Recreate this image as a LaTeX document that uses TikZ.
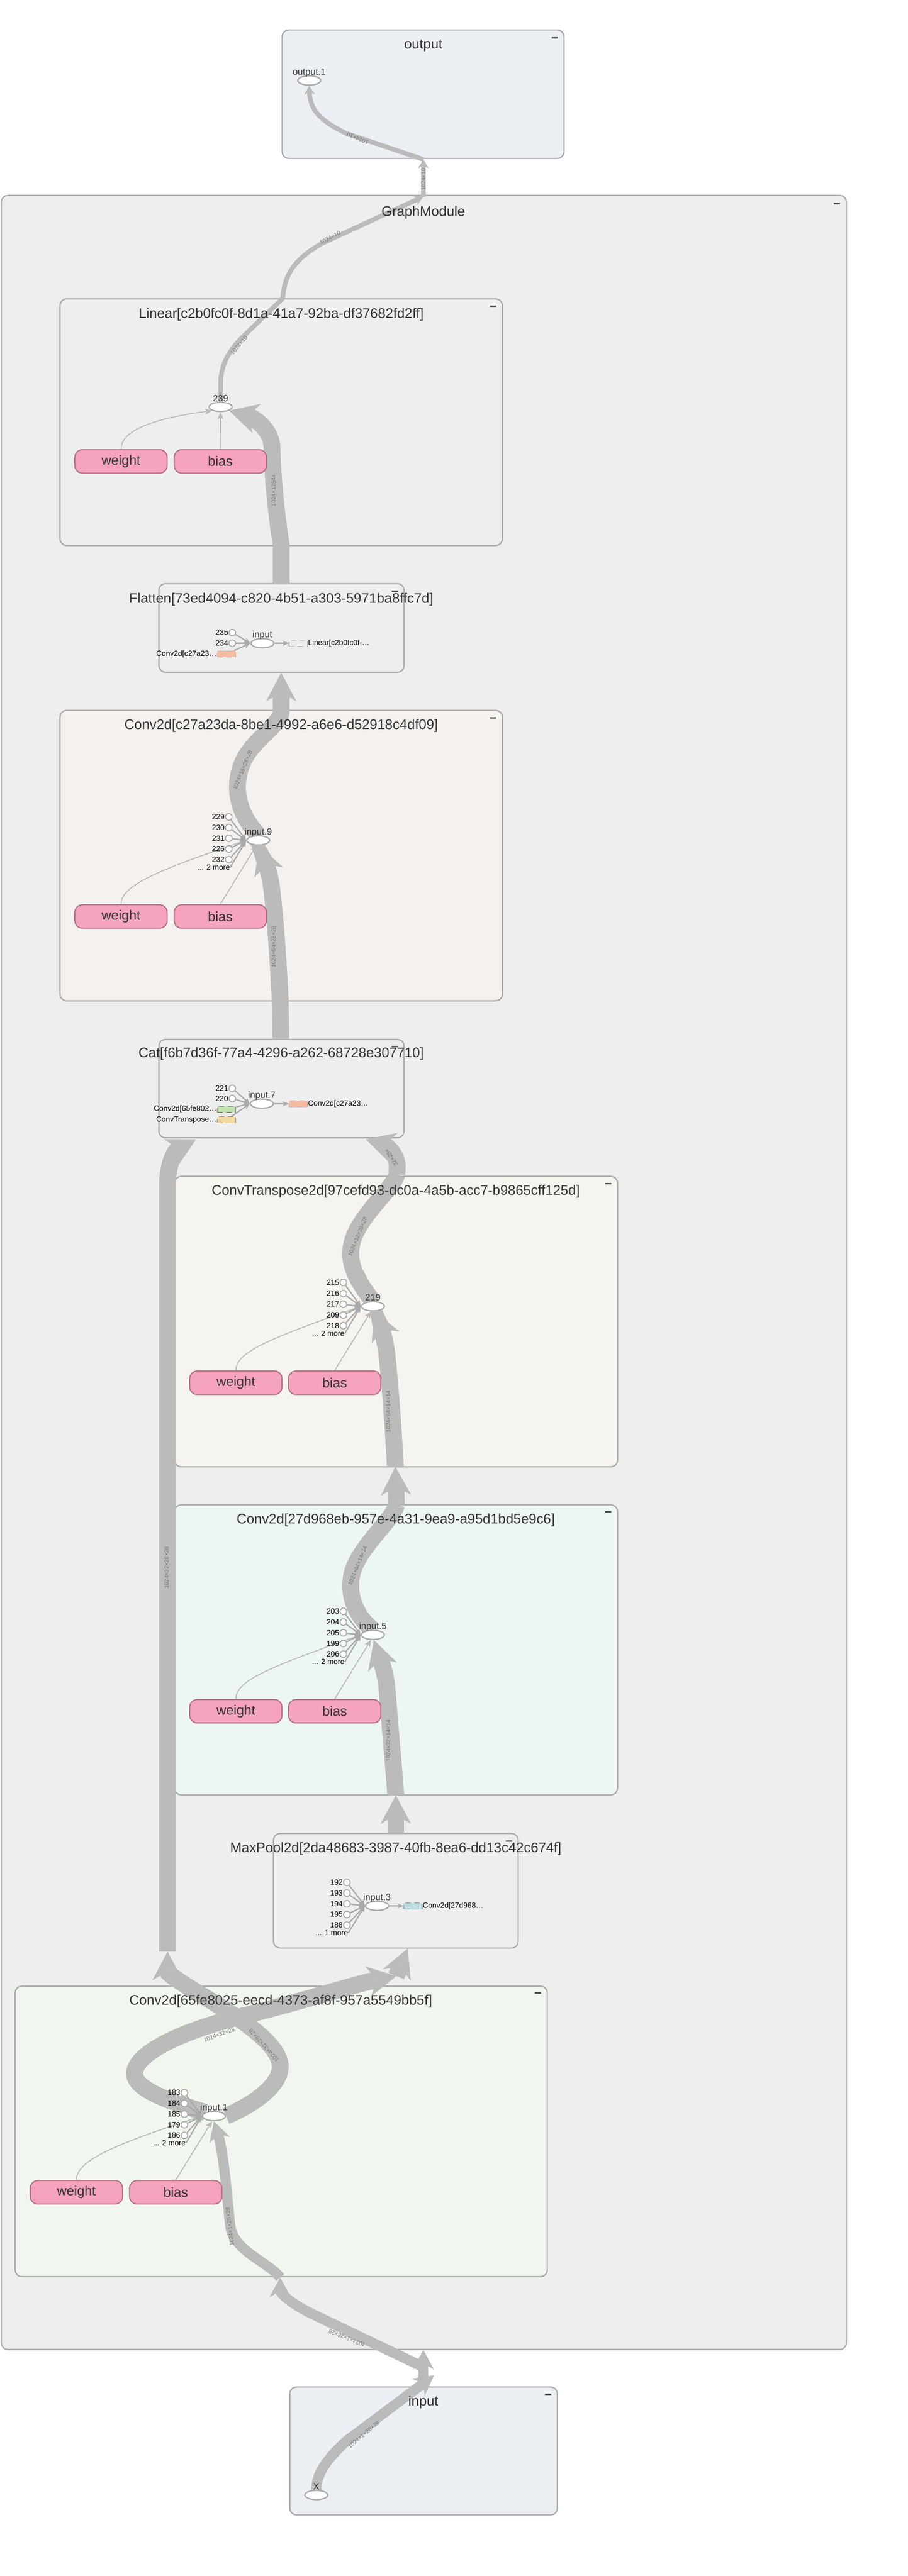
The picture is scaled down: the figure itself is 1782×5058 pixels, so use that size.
\documentclass[tikz,border=0pt]{standalone}
\usepackage{fontspec}
\setmainfont{Liberation Sans}
\usetikzlibrary{shapes.geometric,arrows.meta,backgrounds}

\definecolor{edgegray}{HTML}{BBBBBB}
\definecolor{grpline}{HTML}{AAAAAA}
\definecolor{gmfill}{HTML}{EEEEEE}
\definecolor{iofill}{HTML}{ECEFF4}
\definecolor{convcfill}{HTML}{F5F1EE}
\definecolor{convtfill}{HTML}{F5F4EF}
\definecolor{convbfill}{HTML}{EEF6F4}
\definecolor{convafill}{HTML}{F1F6EE}
\definecolor{parampink}{HTML}{F5A3BE}
\definecolor{paramline}{HTML}{B07087}
\definecolor{txtdark}{HTML}{333333}
\definecolor{lblgray}{HTML}{777777}
\definecolor{fangray}{HTML}{AAAAAA}
\definecolor{pxorange}{HTML}{F5BBA0}
\definecolor{pxgreen}{HTML}{C5E2B2}
\definecolor{pxyellow}{HTML}{F2D9A2}
\definecolor{pxteal}{HTML}{BCDDDE}

\begin{document}
\begin{tikzpicture}
    [x=0.01cm, y=-0.01cm,
    grp/.style={rectangle, rounded corners=3.7pt, draw=grpline, line width=0.7pt, inner sep=0pt, outer sep=0pt},
    ttl/.style={font=\fontsize{7.7}{9}\selectfont, text=txtdark, inner sep=0pt},
    minus/.style={font=\bfseries\fontsize{7}{8}\selectfont, text=txtdark, inner sep=0pt},
    op/.style={ellipse, draw=grpline, fill=white, line width=0.7pt, minimum width=0.45cm, minimum height=0.18cm, inner sep=0pt, label distance=2.3pt},
    oplbl/.style={font=\fontsize{5.1}{6}\selectfont, text=txtdark, inner sep=0pt, text depth=0pt},
    const/.style={circle, draw=grpline, fill=white, line width=0.55pt, minimum size=0.13cm, inner sep=0pt, label distance=1.3pt},
    numlbl/.style={font=\fontsize{4.2}{5}\selectfont, text=black, inner sep=0pt},
    param/.style={rectangle, rounded corners=4.2pt, draw=paramline, fill=parampink, line width=0.6pt, minimum width=1.81cm, minimum height=0.46cm, inner sep=0pt, font=\fontsize{7.5}{9}\selectfont, text=txtdark},
    proxy/.style={rectangle, densely dashed, line width=0.35pt, minimum width=0.36cm, minimum height=0.12cm, inner sep=0pt, label distance=1.8pt},
    elbl/.style={font=\fontsize{3.2}{4}\selectfont, text=lblgray, inner sep=0pt},
    fanin/.style={color=fangray, line width=0.7pt, -{Stealth[length=3.5pt, width=3pt, inset=1pt, line width=0pt]}},
    paramflow/.style={draw=edgegray, line width=0.55pt, -{Stealth[length=4pt, width=3.5pt, inset=1.2pt, line width=0pt]}},
    thinline/.style={draw=edgegray, line width=2.6pt},
    thinflow/.style={thinline, -{Stealth[length=5pt, width=6pt, inset=1.6pt, line width=0pt]}},
    midflow/.style={draw=edgegray, line width=5.7pt, -{Stealth[length=11pt, width=12pt, inset=3.5pt, line width=0pt]}},
    bigline/.style={draw=edgegray, line width=9.4pt},
    bigflow/.style={bigline, -{Stealth[length=16pt, width=17pt, inset=5pt, line width=0pt]}}]

    \useasboundingbox (0,0) rectangle (1782,5058);

    % ports on the group borders
    \coordinate (gmTop) at (831,386);
    \coordinate (outBot) at (831,313);
    \coordinate (linTop) at (555,586);
    \coordinate (linBot) at (552,1071);
    \coordinate (flatTop) at (552,1146);
    \coordinate (flatBot) at (552,1321);
    \coordinate (convCTop) at (552,1395);
    \coordinate (convCBot) at (550,1965);
    \coordinate (catTop) at (551,2041);
    \coordinate (catBotL) at (385,2237);
    \coordinate (catBotR) at (718,2237);
    \coordinate (convTTop) at (779,2306);
    \coordinate (convTBot) at (776,2880);
    \coordinate (convBTop) at (778,2955);
    \coordinate (convBBot) at (777,3525);
    \coordinate (poolTop) at (777,3600);
    \coordinate (poolBot) at (800,3826);
    \coordinate (convATopL) at (329,3832);
    \coordinate (convATopR) at (778,3880);
    \coordinate (convABot) at (550,4472);
    \coordinate (gmBot) at (831,4614);
    \coordinate (gmIn) at (836,4650);
    \coordinate (inPort) at (831,4684);
    \coordinate (inTop) at (852,4664);

    % output
    \node[op, label={[oplbl]above:output.1}] (out1) at (607,158) {};

    % Linear
    \node[op, label={[oplbl]above:239}] (op239) at (433,799) {};
    \node[param] (wLin) at (237.5,906) {weight};
    \node[param] (bLin) at (432.5,906) {bias};

    % Flatten
    \node[op, label={[oplbl]above:input}] (opFlat) at (515,1263) {};
    \node[const, label={[numlbl]left:235}] (c235) at (456,1242) {};
    \node[const, label={[numlbl]left:234}] (c234) at (456,1263) {};
    \node[proxy, draw=paramline!60, fill=pxorange, label={[numlbl]left:{Conv2d[c27a23…}}] (pxFlatIn) at (444.5,1284) {};
    \node[proxy, draw=grpline, fill=gmfill, label={[numlbl]right:{Linear[c2b0fc0f-…}}] (pxFlatOut) at (585.5,1263) {};

    % Conv2d c27a23da
    \node[op, label={[oplbl]above:input.9}] (opIn9) at (507,1650) {};
    \node[const, label={[numlbl]left:229}] (c229) at (449,1604) {};
    \node[const, label={[numlbl]left:230}] (c230) at (449,1625) {};
    \node[const, label={[numlbl]left:231}] (c231) at (449,1646) {};
    \node[const, label={[numlbl]left:225}] (c225) at (449,1667) {};
    \node[const, label={[numlbl]left:232}] (c232) at (449,1688) {};
    \node[numlbl, anchor=east] (moreC) at (452,1703) {... 2 more};
    \node[param] (wConvC) at (237.5,1799.5) {weight};
    \node[param] (bConvC) at (432.5,1799.5) {bias};

    % Cat
    \node[op, label={[oplbl]above:input.7}] (opIn7) at (514,2167) {};
    \node[const, label={[numlbl]left:221}] (c221) at (456,2137) {};
    \node[const, label={[numlbl]left:220}] (c220) at (456,2157) {};
    \node[proxy, draw=pxgreen!60!black, fill=pxgreen, label={[numlbl]left:{Conv2d[65fe802…}}] (pxCatA) at (444.5,2178) {};
    \node[proxy, draw=pxyellow!60!black, fill=pxyellow, label={[numlbl]left:{ConvTranspose…}}] (pxCatB) at (444.5,2199) {};
    \node[proxy, draw=paramline!60, fill=pxorange, label={[numlbl]right:{Conv2d[c27a23…}}] (pxCatOut) at (585.5,2167.5) {};

    % ConvTranspose2d
    \node[op, label={[oplbl]above:219}] (op219) at (732,2565) {};
    \node[const, label={[numlbl]left:215}] (c215) at (674,2518) {};
    \node[const, label={[numlbl]left:216}] (c216) at (674,2540) {};
    \node[const, label={[numlbl]left:217}] (c217) at (674,2561) {};
    \node[const, label={[numlbl]left:209}] (c209) at (674,2582) {};
    \node[const, label={[numlbl]left:218}] (c218) at (674,2603) {};
    \node[numlbl, anchor=east] (moreT) at (677,2618) {... 2 more};
    \node[param] (wConvT) at (463,2715) {weight};
    \node[param] (bConvT) at (657,2715) {bias};

    % Conv2d 27d968eb
    \node[op, label={[oplbl]above:input.5}] (opIn5) at (732,3210) {};
    \node[const, label={[numlbl]left:203}] (c203) at (674,3164) {};
    \node[const, label={[numlbl]left:204}] (c204) at (674,3185) {};
    \node[const, label={[numlbl]left:205}] (c205) at (674,3206) {};
    \node[const, label={[numlbl]left:199}] (c199) at (674,3227) {};
    \node[const, label={[numlbl]left:206}] (c206) at (674,3248) {};
    \node[numlbl, anchor=east] (moreB) at (677,3263) {... 2 more};
    \node[param] (wConvB) at (463,3360) {weight};
    \node[param] (bConvB) at (657,3360) {bias};

    % MaxPool2d
    \node[op, label={[oplbl]above:input.3}] (opIn3) at (740,3742) {};
    \node[const, label={[numlbl]left:192}] (c192) at (681,3696) {};
    \node[const, label={[numlbl]left:193}] (c193) at (681,3717) {};
    \node[const, label={[numlbl]left:194}] (c194) at (681,3738) {};
    \node[const, label={[numlbl]left:195}] (c195) at (681,3759) {};
    \node[const, label={[numlbl]left:188}] (c188) at (681,3780) {};
    \node[numlbl, anchor=east] (moreP) at (684,3795) {... 1 more};
    \node[proxy, draw=pxteal!60!black, fill=pxteal, label={[numlbl]right:{Conv2d[27d968…}}] (pxPoolOut) at (810.5,3742.5) {};

    % Conv2d 65fe8025
    \node[op, label={[oplbl]above:input.1}] (opIn1) at (420,4155) {};
    \node[const, label={[numlbl]left:183}] (c183) at (362,4109) {};
    \node[const, label={[numlbl]left:184}] (c184) at (362,4130) {};
    \node[const, label={[numlbl]left:185}] (c185) at (362,4151) {};
    \node[const, label={[numlbl]left:179}] (c179) at (362,4172) {};
    \node[const, label={[numlbl]left:186}] (c186) at (362,4193) {};
    \node[numlbl, anchor=east] (moreA) at (365,4208) {... 2 more};
    \node[param] (wConvA) at (150,4304.5) {weight};
    \node[param] (bConvA) at (345,4304.5) {bias};

    % input
    \node[op, label={[oplbl]above:X}] (opX) at (621,4899) {};

    \begin{pgfonlayer}{background}
        \fill[white] (0,0) rectangle (1782,5058);

        % groups
        \node[grp, fill=iofill, minimum width=5.53cm, minimum height=2.52cm] (grpOut) at (830.5,185) {};
        \node[grp, fill=gmfill, minimum width=16.58cm, minimum height=42.27cm] (grpGM) at (832,2498.5) {};
        \node[grp, fill=gmfill, minimum width=8.68cm, minimum height=4.84cm] (grpLinear) at (552,829) {};
        \node[grp, fill=gmfill, minimum width=4.81cm, minimum height=1.74cm] (grpFlatten) at (552.5,1233) {};
        \node[grp, fill=convcfill, minimum width=8.68cm, minimum height=5.70cm] (grpConvC) at (552,1680) {};
        \node[grp, fill=gmfill, minimum width=4.81cm, minimum height=1.93cm] (grpCat) at (552.5,2137.5) {};
        \node[grp, fill=convtfill, minimum width=8.69cm, minimum height=5.70cm] (grpConvT) at (777.5,2595) {};
        \node[grp, fill=convbfill, minimum width=8.69cm, minimum height=5.69cm] (grpConvB) at (777.5,3239.5) {};
        \node[grp, fill=gmfill, minimum width=4.80cm, minimum height=2.25cm] (grpPool) at (777,3712.5) {};
        \node[grp, fill=convafill, minimum width=10.44cm, minimum height=5.70cm] (grpConvA) at (552,4185) {};
        \node[grp, fill=iofill, minimum width=5.25cm, minimum height=2.51cm] (grpIn) at (831.5,4812.5) {};

        % Linear to output
        \draw[thinline] (op239.north) -- (433,755) .. controls (433,715) and (450,688) .. (478,660) -- (linTop);
        \draw[thinflow] (linTop) .. controls (558,545) and (572,512) .. (632,478) -- (gmTop);
        \draw[thinflow] (gmTop) -- (outBot);
        \draw[thinflow] (outBot) -- (680,262) .. controls (625,235) and (609,215) .. (out1.south);

        % Flatten to Linear
        \draw[bigflow] (flatTop) -- (linBot) .. controls (541,1000) and (535,930) .. (534,880) .. controls (533,842) and (498,820) .. (op239.south east);

        % Conv2d c27a23da to Flatten
        \draw[bigflow] (opIn9.north) .. controls (470,1600) and (455,1550) .. (475,1500) .. controls (495,1450) and (552,1425) .. (convCTop) -- (flatBot);

        % Cat to Conv2d c27a23da
        \draw[bigflow] (catTop) -- (convCBot) .. controls (546,1880) and (540,1800) .. (534,1750) .. controls (530,1712) and (518,1686) .. (opIn9.-80);

        % ConvTranspose2d to Cat
        \draw[bigline] (op219.north) .. controls (705,2520) and (682,2485) .. (690,2445) .. controls (700,2390) and (772,2335) .. (convTTop);
        \draw[bigflow] (convTTop) -- (780,2290) .. controls (778,2262) and (755,2248) .. (catBotR);

        % Conv2d 27d968eb to ConvTranspose2d
        \draw[bigline] (opIn5.north) .. controls (705,3180) and (682,3140) .. (690,3095) .. controls (700,3040) and (772,2985) .. (convBTop);
        \draw[bigflow] (convBTop) -- (convTBot);
        \draw[bigflow] (convTBot) .. controls (772,2800) and (765,2710) .. (760,2665) .. controls (756,2625) and (745,2600) .. (op219.-80);

        % MaxPool2d to Conv2d 27d968eb
        \draw[bigflow] (poolTop) -- (convBBot);
        \draw[bigflow] (convBBot) .. controls (771,3450) and (764,3370) .. (760,3320) .. controls (757,3280) and (745,3255) .. (opIn5.-80);

        % Conv2d 65fe8025 to MaxPool2d and Cat
        \draw[bigflow] (opIn1.north west) .. controls (330,4125) and (255,4100) .. (265,4065) .. controls (275,4025) and (370,3985) .. (470,3960) .. controls (600,3928) and (700,3895) .. (convATopR);
        \draw[bigflow] (convATopR) -- (poolBot);
        \draw[bigflow] (opIn1.east) .. controls (480,4140) and (553,4100) .. (550,4055) .. controls (547,4012) and (470,3962) .. (400,3920) .. controls (350,3890) and (329,3875) .. (convATopL);
        \draw[bigflow] (convATopL) -- (329,2325) .. controls (329,2282) and (345,2258) .. (catBotL);

        % input to Conv2d 65fe8025
        \draw[midflow] (opX.north) .. controls (621,4858) and (640,4830) .. (680,4793) -- (inTop);
        \draw[midflow] (inPort) -- (gmBot);
        \draw[midflow] (gmIn) -- (610,4542) .. controls (562,4518) and (550,4500) .. (convABot);
        \draw[midflow] (convABot) .. controls (525,4440) and (458,4420) .. (452,4370) .. controls (446,4320) and (440,4230) .. (opIn1.south);

        % weights and biases
        \draw[paramflow] (wLin.north) .. controls (238,845) and (300,822) .. (op239.south west);
        \draw[paramflow] (bLin.north) -- (op239.south);
        \draw[paramflow] (wConvC.north) .. controls (238,1740) and (300,1712) .. (opIn9.west);
        \draw[paramflow] (bConvC.north) -- (opIn9.-110);
        \draw[paramflow] (wConvT.north) .. controls (463,2655) and (525,2630) .. (op219.west);
        \draw[paramflow] (bConvT.north) -- (op219.-110);
        \draw[paramflow] (wConvB.north) .. controls (463,3300) and (525,3275) .. (opIn5.west);
        \draw[paramflow] (bConvB.north) -- (opIn5.-110);
        \draw[paramflow] (wConvA.north) .. controls (150,4245) and (210,4215) .. (opIn1.west);
        \draw[paramflow] (bConvA.north) -- (opIn1.-110);

        % constants into ops
        \path[fanin] (c235) edge (opFlat.west) (c234) edge (opFlat.west) (pxFlatIn) edge (opFlat.west);
        \path[fanin] (c229) edge (opIn9.west) (c230) edge (opIn9.west) (c231) edge (opIn9.west)
            (c225) edge (opIn9.west) (c232) edge (opIn9.west) (moreC.east) edge (opIn9.west);
        \path[fanin] (c221) edge (opIn7.west) (c220) edge (opIn7.west) (pxCatA) edge (opIn7.west) (pxCatB) edge (opIn7.west);
        \path[fanin] (c215) edge (op219.west) (c216) edge (op219.west) (c217) edge (op219.west)
            (c209) edge (op219.west) (c218) edge (op219.west) (moreT.east) edge (op219.west);
        \path[fanin] (c203) edge (opIn5.west) (c204) edge (opIn5.west) (c205) edge (opIn5.west)
            (c199) edge (opIn5.west) (c206) edge (opIn5.west) (moreB.east) edge (opIn5.west);
        \path[fanin] (c192) edge (opIn3.west) (c193) edge (opIn3.west) (c194) edge (opIn3.west)
            (c195) edge (opIn3.west) (c188) edge (opIn3.west) (moreP.east) edge (opIn3.west);
        \path[fanin] (c183) edge (opIn1.west) (c184) edge (opIn1.west) (c185) edge (opIn1.west)
            (c179) edge (opIn1.west) (c186) edge (opIn1.west) (moreA.east) edge (opIn1.west);
        \draw[fanin] (opFlat) -- (pxFlatOut);
        \draw[fanin] (opIn7) -- (pxCatOut);
        \draw[fanin] (opIn3) -- (pxPoolOut);
    \end{pgfonlayer}

    % group titles
    \node[ttl] (tOut) at (831,90) {output};
    \node[ttl] (tGM) at (831,417) {GraphModule};
    \node[ttl] (tLinear) at (552,618) {Linear[c2b0fc0f-8d1a-41a7-92ba-df37682fd2ff]};
    \node[ttl] (tFlatten) at (552,1177) {Flatten[73ed4094-c820-4b51-a303-5971ba8ffc7d]};
    \node[ttl] (tConvC) at (552,1425) {Conv2d[c27a23da-8be1-4992-a6e6-d52918c4df09]};
    \node[ttl] (tCat) at (552,2069) {Cat[f6b7d36f-77a4-4296-a262-68728e307710]};
    \node[ttl] (tConvT) at (777,2339) {ConvTranspose2d[97cefd93-dc0a-4a5b-acc7-b9865cff125d]};
    \node[ttl] (tConvB) at (777,2985) {Conv2d[27d968eb-957e-4a31-9ea9-a95d1bd5e9c6]};
    \node[ttl] (tPool) at (777,3630) {MaxPool2d[2da48683-3987-40fb-8ea6-dd13c42c674f]};
    \node[ttl] (tConvA) at (551,3930) {Conv2d[65fe8025-eecd-4373-af8f-957a5549bb5f]};
    \node[ttl] (tIn) at (831,4717) {input};

    % collapse marks
    \node[minus] (mOut) at (1089,78) {–};
    \node[minus] (mGM) at (1643,403) {–};
    \node[minus] (mLinear) at (968,605) {–};
    \node[minus] (mFlatten) at (775,1164) {–};
    \node[minus] (mConvC) at (968,1413) {–};
    \node[minus] (mCat) at (775,2058) {–};
    \node[minus] (mConvT) at (1194,2327) {–};
    \node[minus] (mConvB) at (1194,2972) {–};
    \node[minus] (mPool) at (999,3618) {–};
    \node[minus] (mConvA) at (1056,3917) {–};
    \node[minus] (mIn) at (1076,4705) {–};

    % tensor shapes
    \node[elbl, rotate=158] (sh1) at (702,272) {1024×10};
    \node[elbl, rotate=90] (sh2) at (831,352) {1024×10};
    \node[elbl, rotate=27] (sh3) at (648,467) {1024×10};
    \node[elbl, rotate=49] (sh4) at (469,678) {1024×10};
    \node[elbl, rotate=90] (sh5) at (537,963) {1024×12544};
    \node[elbl, rotate=68] (sh6) at (476,1512) {1024×16×28×28};
    \node[elbl, rotate=90] (sh7) at (537,1859) {1024×64×28×28};
    \node[elbl, rotate=123] (sh8) at (768,2273) {32×28×};
    \node[elbl, rotate=68] (sh9) at (702,2428) {1024×32×28×28};
    \node[elbl, rotate=90] (sh10) at (762,2772) {1024×64×14×14};
    \node[elbl, rotate=90] (sh11) at (327,3078) {1024×32×28×28};
    \node[elbl, rotate=68] (sh12) at (702,3074) {1024×64×14×14};
    \node[elbl, rotate=90] (sh13) at (762,3418) {1024×32×14×14};
    \node[elbl, rotate=19] (sh14) at (430,3995) {1024×32×28};
    \node[elbl, rotate=132] (sh15) at (518,4016) {1024×32×28×28};
    \node[elbl, rotate=97] (sh16) at (451,4372) {1024×1×28×28};
    \node[elbl, rotate=158] (sh17) at (681,4591) {1024×1×28×28};
    \node[elbl, rotate=40] (sh18) at (714,4780) {1024×1×28×28};

\end{tikzpicture}
\end{document}
